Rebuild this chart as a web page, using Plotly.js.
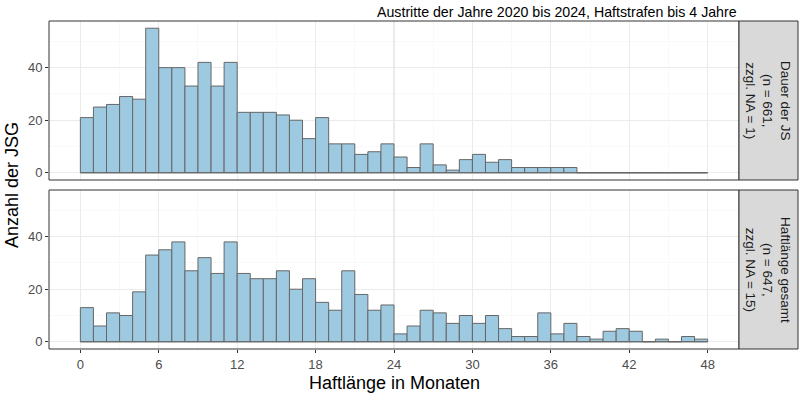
<!DOCTYPE html>
<html>
<head>
<meta charset="utf-8">
<script src="https://cdn.plot.ly/plotly-3.0.1.min.js"></script>
<style>
  body { margin: 0; background: #fff; }
  #hist { width: 800px; height: 400px; }
</style>
</head>
<body>
<div id="hist"></div>
<script>
// bin starts in months, each bin is 1 month wide
let binStarts = [];
for (let i = 0; i < 48; i++) binStarts.push(i);
let binWidth = 1;

// counts per month bin
let dauerJS = [21, 25, 26, 29, 28, 55, 40, 40, 33, 42, 33, 42, 23, 23, 23, 22,
    20, 13, 21, 11, 11, 7, 8, 11, 6, 2, 11, 3, 1, 5, 7, 4,
    5, 2, 2, 2, 2, 2, 0, 0, 0, 0, 0, 0, 0, 0, 0, 0];
let haftGesamt = [13, 6, 11, 10, 19, 33, 35, 38, 27, 32, 26, 38, 26, 24, 24, 27,
    20, 24, 15, 12, 27, 18, 12, 14, 3, 6, 12, 11, 7, 10, 7, 10,
    5, 2, 2, 11, 3, 7, 2, 1, 4, 5, 4, 0, 1, 0, 2, 1];

let stripLabels = ["Dauer der JS<br>(n = 661,<br>zzgl. NA = 1)",
    "Haftlänge gesamt<br>(n = 647,<br>zzgl. NA = 15)"];
let xTicks = [0, 6, 12, 18, 24, 30, 36, 42, 48];
let yTicks = [0, 20, 40];

const fillColor = "#9ecae1";
const outline = "#666666";
const dark = "#333333";
const fontFam = "Liberation Sans, Arial, sans-serif";

function centers() {
    return binStarts.map(b => b + binWidth / 2);
}

function barTrace(values, xa, ya) {
    return {
        type: "bar",
        x: centers(),
        y: values,
        width: binWidth,
        xaxis: xa,
        yaxis: ya,
        marker: { color: fillColor, line: { color: outline, width: 1 } },
        hoverinfo: "x+y",
        showlegend: false
    };
}

// ggplot draws the outline of empty bins as a flat line on 0
function baseLine(xa, ya) {
    let last = binStarts[binStarts.length - 1] + binWidth;
    return {
        type: "scatter",
        mode: "lines",
        x: [binStarts[0], last],
        y: [0, 0],
        xaxis: xa,
        yaxis: ya,
        line: { color: outline, width: 1 },
        hoverinfo: "skip",
        showlegend: false
    };
}

let data = [
    baseLine("x2", "y2"), barTrace(dauerJS, "x2", "y2"),
    baseLine("x", "y"), barTrace(haftGesamt, "x", "y")
];

let yMax = Math.max(...dauerJS, ...haftGesamt);
let yRange = [-0.05 * yMax, 1.05 * yMax];
let xRange = [-0.05 * 48, 48 * 1.05];

let gridStyle = {
    showgrid: true, gridcolor: "#ebebeb", gridwidth: 1.1,
    zeroline: false, showline: false,
    tickfont: { family: fontFam, size: 13, color: "#4d4d4d" },
    ticks: "outside", ticklen: 3, tickcolor: dark, tickwidth: 1
};

let botDomain = [0, 159 / 328];
let topDomain = [169 / 328, 1];

let layout = {
    width: 800, height: 400,
    margin: { l: 49, r: 61, t: 21, b: 51 },
    paper_bgcolor: "#fff", plot_bgcolor: "#fff",
    bargap: 0,
    font: { family: fontFam },
    xaxis: Object.assign({}, gridStyle, {
        range: xRange, anchor: "y", tickvals: xTicks,
        minor: { dtick: 3, tick0: 0, showgrid: true, gridcolor: "#f5f5f5", gridwidth: 0.6 }
    }),
    xaxis2: Object.assign({}, gridStyle, {
        range: xRange, anchor: "y2", matches: "x", tickvals: xTicks,
        showticklabels: false, ticks: "",
        minor: { dtick: 3, tick0: 0, showgrid: true, gridcolor: "#f5f5f5", gridwidth: 0.6 }
    }),
    yaxis: Object.assign({}, gridStyle, {
        range: yRange, domain: botDomain, anchor: "x", tickvals: yTicks,
        minor: { dtick: 10, tick0: 10, showgrid: true, gridcolor: "#f5f5f5", gridwidth: 0.6 }
    }),
    yaxis2: Object.assign({}, gridStyle, {
        range: yRange, domain: topDomain, anchor: "x2", tickvals: yTicks,
        minor: { dtick: 10, tick0: 10, showgrid: true, gridcolor: "#f5f5f5", gridwidth: 0.6 }
    }),
    shapes: [],
    annotations: []
};

// panel borders and facet strips
let stripRight = (798 - 49) / 690;
[topDomain, botDomain].forEach((dom, i) => {
    layout.shapes.push({
        type: "rect", xref: "paper", yref: "paper",
        x0: 0, x1: 1, y0: dom[0], y1: dom[1],
        line: { color: dark, width: 1 }, fillcolor: "rgba(0,0,0,0)", layer: "above"
    });
    layout.shapes.push({
        type: "rect", xref: "paper", yref: "paper",
        x0: 1, x1: stripRight, y0: dom[0], y1: dom[1],
        line: { color: dark, width: 1 }, fillcolor: "#d9d9d9", layer: "above"
    });
    layout.annotations.push({
        xref: "paper", yref: "paper",
        x: (1 + stripRight) / 2, y: (dom[0] + dom[1]) / 2,
        text: stripLabels[i], textangle: 90, showarrow: false,
        xanchor: "center", yanchor: "middle", align: "center",
        font: { family: fontFam, size: 13.5, color: "#1a1a1a" }
    });
});

// titles
layout.annotations.push({
    xref: "paper", yref: "paper", x: 1, y: 1 + 9 / 328,
    xanchor: "right", yanchor: "middle", showarrow: false,
    text: "Austritte der Jahre 2020 bis 2024, Haftstrafen bis 4 Jahre",
    font: { family: fontFam, size: 14.2, color: "#000" }
});
layout.annotations.push({
    xref: "paper", yref: "paper", x: 0.5, y: -34 / 328,
    xanchor: "center", yanchor: "middle", showarrow: false,
    text: "Haftlänge in Monaten",
    font: { family: fontFam, size: 18, color: "#000" }
});
layout.annotations.push({
    xref: "paper", yref: "paper", x: -37 / 690, y: 0.5,
    xanchor: "center", yanchor: "middle", showarrow: false, textangle: -90,
    text: "Anzahl der JSG",
    font: { family: fontFam, size: 18, color: "#000" }
});

Plotly.newPlot("hist", data, layout, { displayModeBar: false, staticPlot: true });
</script>
</body>
</html>
